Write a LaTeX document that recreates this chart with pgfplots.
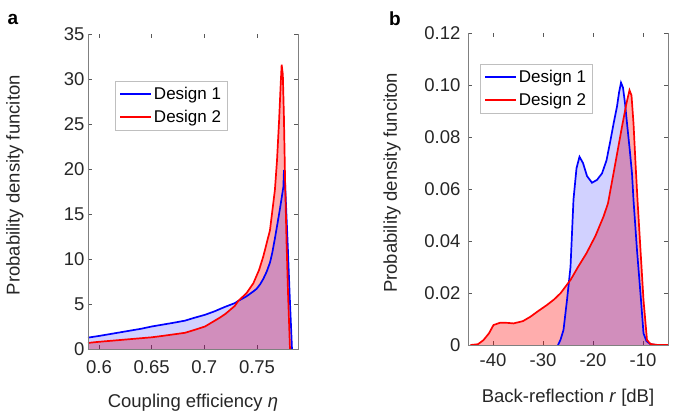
\documentclass[border=0pt]{standalone}
\usepackage{fontspec}
\setmainfont{Liberation Sans}
\usepackage{pgfplots}
\pgfplotsset{compat=1.18}
\usepackage{pgfplotstable}

\pgfplotstableread{
x y
0.5896 1.25
0.5915 1.3
0.60 1.45
0.61 1.65
0.62 1.85
0.63 2.05
0.64 2.25
0.65 2.5
0.66 2.7
0.67 2.9
0.6816 3.15
0.69 3.45
0.7006 3.8
0.71 4.2
0.7149 4.45
0.72 4.7
0.729 5.1
0.7323 5.35
0.74 5.85
0.7465 6.4
0.7497 6.7
0.753 7.2
0.756 7.8
0.7592 8.6
0.7623 9.6
0.7645 10.7
0.767 12.3
0.7695 14.0
0.7718 15.6
0.775 18.0
0.7756 19.9
0.7766 18.5
0.779 12.0
0.781 6.0
0.7832 0
}\aone

\pgfplotstableread{
x y
0.5896 0.65
0.5915 0.7
0.60 0.8
0.62 1.0
0.64 1.2
0.65 1.3
0.66 1.45
0.6816 1.8
0.69 2.1
0.7006 2.5
0.7149 3.5
0.72 3.9
0.729 4.8
0.7323 5.35
0.74 6.2
0.7465 7.3
0.752 8.8
0.756 10.3
0.7623 13.2
0.767 17.7
0.769 21.0
0.771 25.5
0.7725 29.5
0.7734 31.6
0.7745 30.5
0.7755 26.0
0.7766 19.0
0.778 12.0
0.7795 6.0
0.7813 0
}\atwo

\pgfplotstableread{
x y
-27.0 0
-26.5 0.002
-25.9 0.0058
-25.2 0.0173
-24.5 0.030
-23.9 0.056
-23.3 0.068
-22.7 0.0724
-22.0 0.070
-21.2 0.065
-20.2 0.0624
-19.2 0.0635
-18.2 0.066
-17.3 0.071
-16.5 0.0788
-15.8 0.086
-15.2 0.0917
-14.8 0.097
-14.4 0.1009
-14.0 0.099
-13.6 0.093
-13.2 0.0853
-12.7 0.076
-12.2 0.066
-11.9 0.0558
-11.2 0.0365
-10.4 0.0173
-9.9 0.0045
-9.3 0.0015
-8.5 0.0003
-7.3 0
}\bone

\pgfplotstableread{
x y
-44.5 0
-43.0 0.0003
-41.9 0.0019
-40.8 0.0045
-39.9 0.0077
-38.5 0.0086
-37.0 0.0085
-35.9 0.0083
-34.0 0.0092
-32.5 0.0109
-31.0 0.013
-29.2 0.0154
-27.8 0.0175
-26.5 0.0199
-24.5 0.025
-23.0 0.030
-21.3 0.0353
-19.5 0.042
-17.9 0.0494
-17.0 0.0545
-15.9 0.0660
-14.2 0.084
-13.3 0.093
-12.7 0.098
-12.3 0.096
-11.9 0.0853
-11.5 0.070
-11.1 0.0558
-10.5 0.0365
-9.9 0.0173
-9.2 0.0019
-8.5 0.0004
-7.0 0
-5.0 0
}\btwo

\begin{document}
\begin{tikzpicture}
\useasboundingbox (0,0) rectangle (673pt,416pt);
\pgfplotsset{
  common/.style={
    scale only axis, anchor=south west,
    axis line style={draw=none},
    tick style={gray!70!black, line width=0.6pt},
    major tick length=4pt,
    /pgf/number format/assume math mode=true,
    tick label style={font=\fontsize{18.5}{22}\selectfont, text=black!85},
    label style={font=\fontsize{18.5}{22}\selectfont, text=black!85},
    clip=false,
    legend cell align=left,
    legend image code/.code={\draw[##1, line width=1.7pt] (0pt,0pt) -- (31pt,0pt);},
    legend style={font=\fontsize{17}{20}\selectfont, draw=gray!50,
      anchor=north west, inner xsep=4pt, inner ysep=4pt, row sep=5pt},
  },
  fillb/.style={draw=none, fill=blue, fill opacity=0.18, forget plot},
  fillr/.style={draw=none, fill=red, fill opacity=0.32, forget plot},
  lineb/.style={draw=blue, line width=1.7pt},
  liner/.style={draw=red, line width=1.7pt},
}
% Panel a
\begin{axis}[common,
  at={(88pt,67pt)}, width=210pt, height=315pt,
  xmin=0.58956, xmax=0.7889, ymin=0, ymax=35,
  xtick={0.6,0.65,0.7,0.75}, xticklabels={0.6,0.65,0.7,0.75},
  ytick={0,5,10,15,20,25,30,35},
  xticklabel style={yshift=-8pt},
  xlabel={Coupling efficiency \textit{η}},
  ylabel={Probability density funciton},
  xlabel style={at={(axis description cs:0.5,-0.171)}, anchor=center},
  ylabel style={at={(axis description cs:-0.348,0.52)}, anchor=center},
  legend style={at={(axis description cs:0.129,0.851)}},
]
\addplot[fillr] table {\atwo} \closedcycle;
\addplot[fillb] table {\aone} \closedcycle;
\addplot[lineb] table {\aone};
\addlegendentry{Design 1}
\addplot[liner] table {\atwo};
\addlegendentry{Design 2}
\draw[gray, line width=0.8pt] (rel axis cs:0,1) -- (rel axis cs:0,0) -- (rel axis cs:1,0) -- (rel axis cs:1,1);
\end{axis}
% Panel b
\begin{axis}[common,
  at={(468pt,71pt)}, width=200pt, height=312pt,
  xmin=-45, xmax=-5, ymin=0, ymax=0.12,
  xtick={-40,-30,-20,-10}, xticklabels={-40,-30,-20,-10},
  ytick={0,0.02,0.04,0.06,0.08,0.10,0.12},
  yticklabels={0,0.02,0.04,0.06,0.08,0.10,0.12},
  xticklabel style={yshift=-5pt},
  yticklabel style={xshift=-4pt},
  xlabel={Back-reflection \textit{r} [dB]},
  ylabel={Probability density funciton},
  xlabel style={at={(axis description cs:0.5,-0.17)}, anchor=center},
  ylabel style={at={(axis description cs:-0.38,0.52)}, anchor=center},
  legend style={at={(axis description cs:0.06,0.90)}},
]
\addplot[fillr] table {\btwo} \closedcycle;
\addplot[fillb] table {\bone} \closedcycle;
\addplot[lineb] table {\bone};
\addlegendentry{Design 1}
\addplot[liner] table {\btwo};
\addlegendentry{Design 2}
\draw[gray, line width=0.8pt] (rel axis cs:0,1) -- (rel axis cs:0,0) -- (rel axis cs:1,0) -- (rel axis cs:1,1);
\end{axis}
\node[font=\bfseries\fontsize{19}{22}\selectfont] at (13pt,397pt) {a};
\node[font=\bfseries\fontsize{19}{22}\selectfont] at (395pt,397pt) {b};
\end{tikzpicture}
\end{document}
